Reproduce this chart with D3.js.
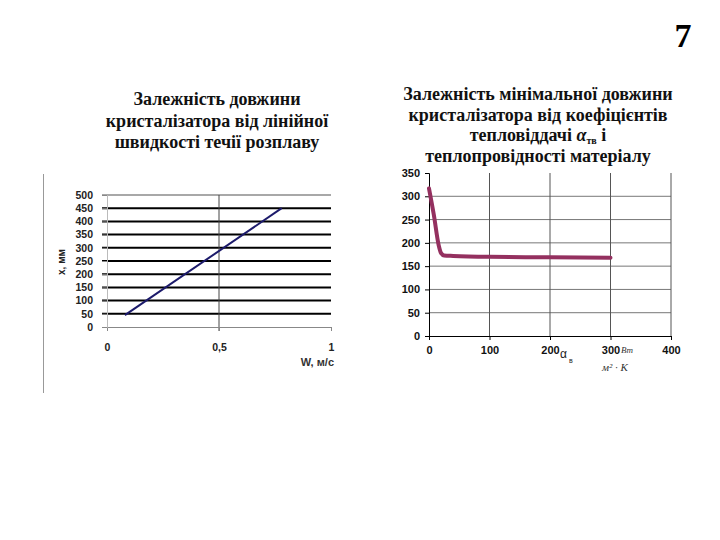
<!DOCTYPE html>
<html><head><meta charset="utf-8">
<script src="https://cdn.jsdelivr.net/npm/d3@7"></script>
<style>body{margin:0;background:#fff}svg{display:block}</style>
</head><body>
<script>
// Left chart data
const leftXTicks = [0, 0.5, 1];
const leftXTickLabels = ["0", "0,5", "1"];
const leftYTicks = [0, 50, 100, 150, 200, 250, 300, 350, 400, 450, 500];
const leftW = [0.08, 0.78];
const leftLen = [45, 450];
// Right chart data
const rightXTicks = [0, 100, 200, 300, 400];
const rightYTicks = [0, 50, 100, 150, 200, 250, 300, 350];
const rightAlpha = [0, 8, 16, 20, 25, 40, 100, 200, 300];
const rightLen = [317, 260, 195, 178, 173, 172, 170, 169, 168];

const leftTitle = ["Залежність довжини", "кристалізатора від лінійної", "швидкості течії розплаву"];
const rightTitle = ["Залежність мінімальної довжини", "кристалізатора від коефіцієнтів"];

const svg = d3.select("body").append("svg").attr("width", 720).attr("height", 540);
svg.append("rect").attr("width", 720).attr("height", 540).attr("fill", "#fff");

// slide number
svg.append("text").attr("x", 683).attr("y", 47).attr("text-anchor", "middle")
  .attr("font-family", "Liberation Serif, serif").attr("font-weight", "bold")
  .attr("font-size", 34).text("7");

// titles
const serif = "Liberation Serif, Times New Roman, serif";
const TS = 18;
leftTitle.forEach((t, i) => svg.append("text").attr("x", 217).attr("y", 105 + i * 21.5)
  .attr("text-anchor", "middle").attr("font-family", serif).attr("font-weight", "bold")
  .attr("font-size", TS).attr("fill", "#111").text(t));
rightTitle.forEach((t, i) => svg.append("text").attr("x", 538).attr("y", 100 + i * 21)
  .attr("text-anchor", "middle").attr("font-family", serif).attr("font-weight", "bold")
  .attr("font-size", TS).attr("fill", "#111").text(t));
const t3 = svg.append("text").attr("x", 538).attr("y", 141).attr("text-anchor", "middle")
  .attr("font-family", serif).attr("font-weight", "bold").attr("font-size", TS).attr("fill", "#111");
t3.append("tspan").text("тепловіддачі ");
t3.append("tspan").attr("font-style", "italic").text("α");
t3.append("tspan").attr("font-size", 10).attr("dy", 3).text("тв");
t3.append("tspan").attr("dy", -3).text(" і");
svg.append("text").attr("x", 538).attr("y", 162).attr("text-anchor", "middle")
  .attr("font-family", serif).attr("font-weight", "bold").attr("font-size", TS).attr("fill", "#111")
  .text("теплопровідності матеріалу");

// ---------- Left chart ----------
const lx = d3.scaleLinear().domain([0, 1]).range([107, 331]);
const ly = d3.scaleLinear().domain([0, 500]).range([327, 195]);
const sans = "Liberation Sans, Arial, sans-serif";

// frame vertical line at left
svg.append("line").attr("x1", 43.5).attr("x2", 43.5).attr("y1", 174).attr("y2", 393)
  .attr("stroke", "#999").attr("stroke-width", 1);

const L = svg.append("g");
// gridlines
leftYTicks.forEach(v => {
  if (v === 0) return;
  L.append("line").attr("x1", lx(0) - 5).attr("x2", lx(1)).attr("y1", ly(v)).attr("y2", ly(v))
    .attr("stroke", v === 500 ? "#a8a8a8" : "#000").attr("stroke-width", 2);
});
// vertical grid at 0.5
L.append("line").attr("x1", lx(0.5)).attr("x2", lx(0.5)).attr("y1", ly(500)).attr("y2", ly(0) + 4)
  .attr("stroke", "#444").attr("stroke-width", 1);
// x axis
L.append("g").attr("transform", `translate(0,${ly(0)})`)
  .call(d3.axisBottom(lx).tickValues(leftXTicks).tickSize(4).tickFormat((d, i) => leftXTickLabels[i]))
  .call(g => {
    g.select(".domain").attr("stroke", "#888");
    g.selectAll(".tick line").attr("stroke", "#888");
    g.selectAll("text").attr("font-family", sans).attr("font-weight", "bold").attr("font-size", 10.5)
      .attr("fill", "#222").attr("dy", "1.6em");
  });
// y axis
L.append("g").attr("transform", `translate(${lx(0)},0)`)
  .call(d3.axisLeft(ly).tickValues(leftYTicks).tickSize(5).tickPadding(9))
  .call(g => {
    g.select(".domain").attr("stroke", "#bbb");
    g.selectAll(".tick line").attr("stroke", "#888");
    g.selectAll("text").attr("font-family", sans).attr("font-weight", "bold").attr("font-size", 10.5).attr("fill", "#222");
  });
// line
L.append("path").datum(leftW.map((w, i) => [w, leftLen[i]]))
  .attr("d", d3.line().x(d => lx(d[0])).y(d => ly(d[1])))
  .attr("fill", "none").attr("stroke", "#1c1a6b").attr("stroke-width", 2);
// axis labels
L.append("text").attr("transform", "translate(65,262) rotate(-90)").attr("text-anchor", "middle")
  .attr("font-family", sans).attr("font-weight", "bold").attr("font-size", 10).attr("fill", "#222").text("x, мм");
L.append("text").attr("x", 334).attr("y", 366).attr("text-anchor", "end")
  .attr("font-family", sans).attr("font-weight", "bold").attr("font-size", 11).attr("fill", "#333").text("W, м/с");

// ---------- Right chart ----------
const rx = d3.scaleLinear().domain([0, 400]).range([429, 671]);
const ry = d3.scaleLinear().domain([0, 350]).range([336, 173]);
const R = svg.append("g");
rightYTicks.forEach(v => {
  if (v === 0 || v === 350) return;
  R.append("line").attr("x1", rx(0)).attr("x2", rx(400)).attr("y1", ry(v)).attr("y2", ry(v))
    .attr("stroke", "#777").attr("stroke-width", 1);
});
rightXTicks.forEach(v => {
  if (v === 0) return;
  R.append("line").attr("x1", rx(v)).attr("x2", rx(v)).attr("y1", ry(350)).attr("y2", ry(0))
    .attr("stroke", "#555").attr("stroke-width", 1);
});
R.append("g").attr("transform", `translate(0,${ry(0)})`)
  .call(d3.axisBottom(rx).tickValues(rightXTicks).tickSize(4).tickPadding(6))
  .call(g => {
    g.select(".domain").attr("stroke", "#000");
    g.selectAll(".tick line").attr("stroke", "#000");
    g.selectAll("text").attr("font-family", sans).attr("font-weight", "bold").attr("font-size", 11).attr("fill", "#111");
  });
R.append("g").attr("transform", `translate(${rx(0)},0)`)
  .call(d3.axisLeft(ry).tickValues(rightYTicks).tickSize(4).tickPadding(5))
  .call(g => {
    g.select(".domain").attr("stroke", "#000");
    g.selectAll(".tick line").attr("stroke", "#000");
    g.selectAll("text").attr("font-family", sans).attr("font-weight", "bold").attr("font-size", 11).attr("fill", "#111");
  });
R.append("path").datum(rightAlpha.map((a, i) => [a, rightLen[i]]))
  .attr("d", d3.line().x(d => rx(d[0])).y(d => ry(d[1])).curve(d3.curveMonotoneX))
  .attr("fill", "none").attr("stroke", "#94305f").attr("stroke-width", 4)
  .attr("stroke-linejoin", "round").attr("stroke-linecap", "round");
// axis label α_в and units
const al = R.append("text").attr("x", 560).attr("y", 358).attr("font-family", sans).attr("font-size", 12).attr("fill", "#222");
al.append("tspan").text("α");
al.append("tspan").attr("font-size", 7).attr("dx", 2).attr("dy", 5).text("в");
R.append("text").attr("x", 621).attr("y", 353).attr("font-family", serif).attr("font-style", "italic")
  .attr("font-size", 9).attr("fill", "#333").text("Вт");
R.append("text").attr("x", 615).attr("y", 371).attr("text-anchor", "middle").attr("font-family", serif).attr("font-style", "italic")
  .attr("font-size", 11).attr("fill", "#333").text("м² · K");
</script>
</body></html>
